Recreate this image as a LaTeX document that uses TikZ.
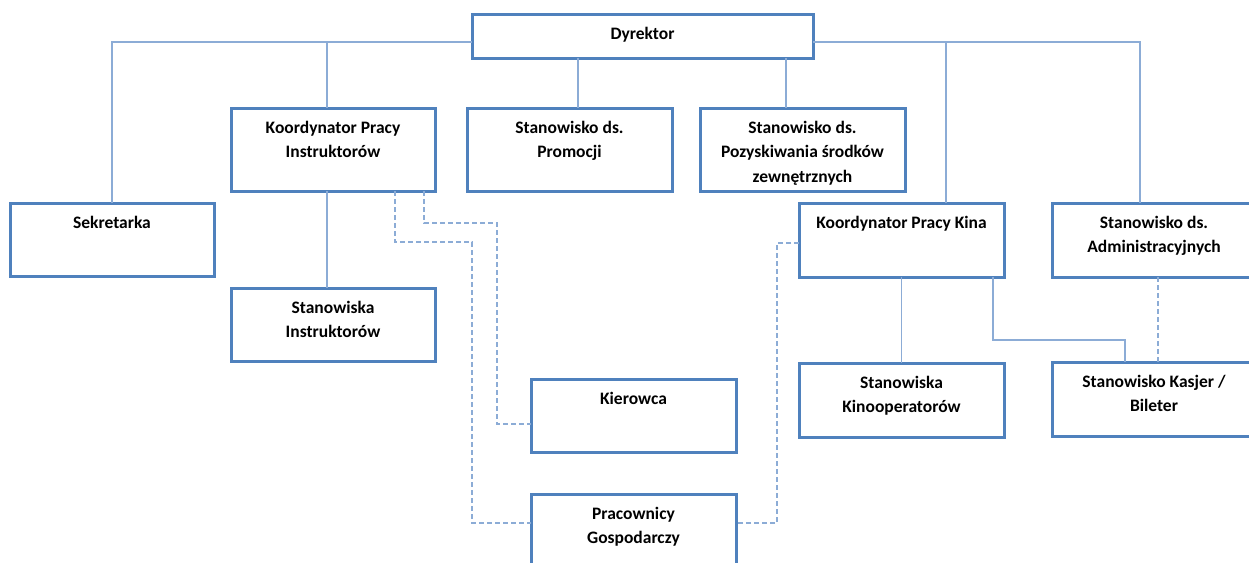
\documentclass[tikz,border=0pt]{standalone}
\usepackage{fontspec}
\setmainfont{Carlito}
\definecolor{boxblue}{RGB}{79,129,189}
\definecolor{lineblue}{RGB}{140,172,214}
\newcommand{\fstrut}{\rule{0pt}{17.15pt}}
\begin{document}
\begin{tikzpicture}[x=1pt,y=-1pt,
  box/.style={draw=boxblue, line width=3pt, rectangle, outer sep=0pt, inner sep=0pt, fill=white},
  lab/.style={anchor=north, inner sep=0pt, align=center, font=\fontsize{17.5}{24.5}\bfseries\selectfont, yshift=-7.85pt},
  conn/.style={draw=lineblue, line width=1.5pt},
  dconn/.style={conn, dash pattern=on 5pt off 3pt}]
\useasboundingbox (0,0) rectangle (1249,562);
% boxes
\node[box, minimum width=341pt, minimum height=44pt] (dyr) at (642.5,36) {};
\node[box, minimum width=204pt, minimum height=83pt] (kpi) at (333,149.5) {};
\node[box, minimum width=205pt, minimum height=83pt] (prom) at (569.5,149.5) {};
\node[box, minimum width=205pt, minimum height=83pt] (poz) at (802.5,149.5) {};
\node[box, minimum width=204pt, minimum height=73pt] (sek) at (112,239.5) {};
\node[box, minimum width=204pt, minimum height=73pt] (stin) at (333,324.5) {};
\node[box, minimum width=205pt, minimum height=73pt] (kier) at (633.5,415.5) {};
\node[box, minimum width=205pt, minimum height=73pt] (prac) at (633.5,530.5) {};
\node[box, minimum width=205pt, minimum height=74pt] (kina) at (901.5,240) {};
\node[box, minimum width=204pt, minimum height=74pt] (adm) at (1154,240) {};
\node[box, minimum width=205pt, minimum height=74pt] (kino) at (901.5,400) {};
\node[box, minimum width=204pt, minimum height=74pt] (kas) at (1154,399) {};
% texts
\node[lab] (dyrt) at (dyr.north) {\fstrut Dyrektor};
\node[lab] (kpit) at (kpi.north) {\fstrut Koordynator Pracy\\Instruktorów};
\node[lab] (promt) at (prom.north) {\fstrut Stanowisko ds.\\Promocji};
\node[lab] (pozt) at (poz.north) {\fstrut Stanowisko ds.\\Pozyskiwania środków\\zewnętrznych};
\node[lab] (sekt) at (sek.north) {\fstrut Sekretarka};
\node[lab] (stint) at (stin.north) {\fstrut Stanowiska\\Instruktorów};
\node[lab] (kiert) at (kier.north) {\fstrut Kierowca};
\node[lab] (pract) at (prac.north) {\fstrut Pracownicy\\Gospodarczy};
\node[lab] (kinat) at (kina.north) {\fstrut Koordynator Pracy Kina};
\node[lab] (admt) at (adm.north) {\fstrut Stanowisko ds.\\Administracyjnych};
\node[lab] (kinot) at (kino.north) {\fstrut Stanowiska\\Kinooperatorów};
\node[lab] (kast) at (kas.north) {\fstrut Stanowisko Kasjer /\\Bileter};
% helper coordinates
\coordinate (hl) at (0,42);
\coordinate (kpiup) at ([xshift=-6pt]kpi.north);
\coordinate (kpidn) at ([xshift=-6pt]kpi.south);
\coordinate (promup) at ([xshift=8.5pt]prom.north);
\coordinate (pozup) at ([xshift=-16.5pt]poz.north);
\coordinate (kinaup) at ([xshift=44.5pt]kina.north);
\coordinate (admup) at ([xshift=-14pt]adm.north);
\coordinate (k1) at ([xshift=91.5pt]kina.south);
\coordinate (k2) at ([xshift=-29pt]kas.north);
\coordinate (kmid) at (0,340);
\coordinate (admdn) at ([xshift=4pt]adm.south);
\coordinate (d1) at ([xshift=62pt]kpi.south);
\coordinate (c1) at (472,242);
\coordinate (pw) at ([yshift=7.5pt]prac.west);
\coordinate (d2) at ([xshift=91pt]kpi.south);
\coordinate (c2) at (497,223);
\coordinate (kw) at ([yshift=-8.5pt]kier.west);
\coordinate (kw2) at ([yshift=-3pt]kina.west);
\coordinate (c3) at (777,523);
\coordinate (pe) at ([yshift=7.5pt]prac.east);
% solid connectors
\draw[conn] (dyr.west |- hl) -| (sek.north);
\draw[conn] (kpiup |- hl) -- (kpiup);
\draw[conn] (dyr.east |- hl) -| (admup);
\draw[conn] (kinaup |- hl) -- (kinaup);
\draw[conn] (promup |- dyr.south) -- (promup);
\draw[conn] (pozup |- dyr.south) -- (pozup);
\draw[conn] (kpidn) -- (kpidn |- stin.north);
\draw[conn] (kina.south) -- (kino.north);
\draw[conn] (k1) -- (k1 |- kmid) -- (k2 |- kmid) -- (k2);
% dashed connectors
\draw[dconn] (admdn) -- (admdn |- kas.north);
\draw[dconn] (d1) |- (c1) |- (pw);
\draw[dconn] (d2) |- (c2) |- (kw);
\draw[dconn] (kw2) -| (c3) -- (pe);
\end{tikzpicture}
\end{document}
